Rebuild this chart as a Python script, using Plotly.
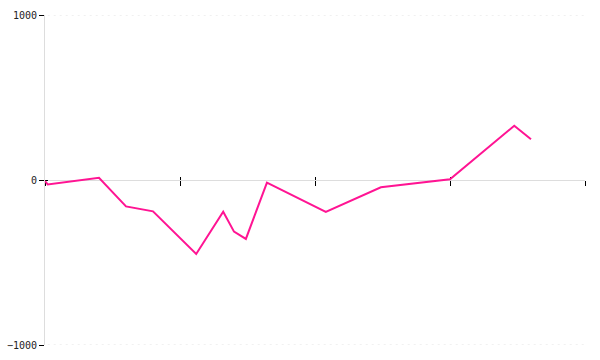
import plotly.graph_objects as go

x_vals = [0, 0.5, 10, 15, 20, 28, 33, 35, 37.2, 41.1, 52, 62.2, 75, 86.9, 90]
y_vals = [-6, -27, 14, -160, -190, -448, -192, -313, -357, -16, -194, -44, 4, 329, 247]
x_ticks = [0, 25, 50, 75, 100]
y_ticks = [-1000, 0, 1000]

fig = go.Figure()
fig.add_trace(go.Scatter(x=x_vals, y=y_vals, mode="lines",
                         line=dict(color="#ff1493", width=2), showlegend=False,
                         xaxis="x", yaxis="y"))
fig.add_trace(go.Scatter(x=[None], y=[None], xaxis="x2", yaxis="y2", showlegend=False))

for v in y_ticks:
    if v != 0:
        fig.add_shape(type="line", xref="paper", yref="y", x0=0.005, x1=1, y0=v, y1=v,
                      line=dict(color="#e2e2e2", width=1, dash="2px,4px"), layer="below")

font = dict(family="DejaVu Sans Mono", size=10, color="#222222")
common_x = dict(range=[0, 100], tickvals=x_ticks, showticklabels=False, showgrid=False,
                zeroline=False, anchor="free", position=0.5, tickcolor="#000", tickwidth=1,
                automargin=False, layer="below traces")
common_y = dict(range=[-1000, 1000], tickvals=y_ticks, zeroline=False, tickcolor="#000",
                tickwidth=1, automargin=False, showgrid=False, layer="below traces")

fig.update_layout(
    width=600, height=360,
    margin=dict(l=45, r=15, t=15, b=15, autoexpand=False),
    paper_bgcolor="white", plot_bgcolor="white",
    font=font,
    xaxis=dict(**common_x, showline=True, linecolor="#dddddd", linewidth=1,
               ticks="outside", ticklen=5),
    xaxis2=dict(**common_x, overlaying="x", showline=False, ticks="inside", ticklen=3),
    yaxis=dict(**common_y, showline=True, linecolor="#dddddd", linewidth=1,
               ticks="outside", ticklen=5, tickfont=font),
    yaxis2=dict(**common_y, overlaying="y", anchor="x", side="left", showline=False,
                ticks="inside", ticklen=3, showticklabels=False),
)

fig.write_html("out.html")
